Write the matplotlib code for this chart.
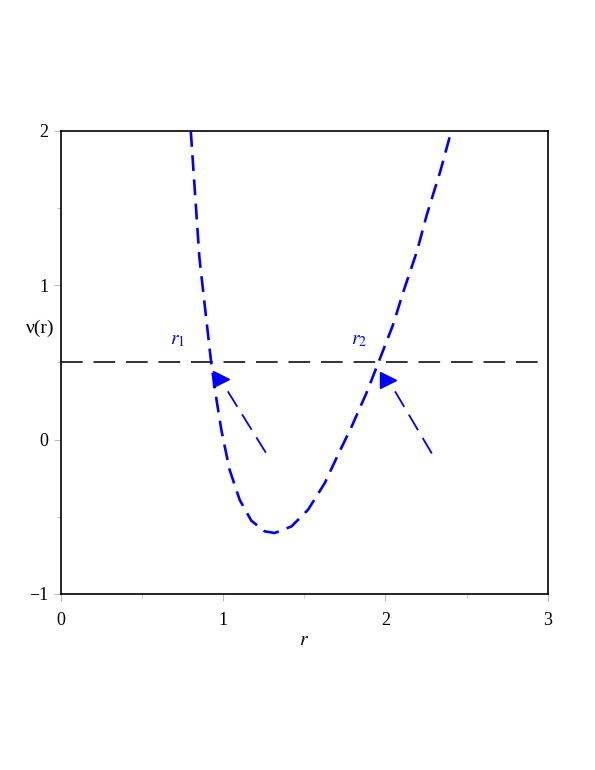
import matplotlib.pyplot as plt

# values
r_vals = [0.80, 0.853, 0.926, 0.957, 0.988, 1.039, 1.101, 1.173, 1.255, 1.317,
          1.421, 1.523, 1.626, 1.709, 1.792, 1.884, 1.954, 2.047, 2.111, 2.194,
          2.255, 2.338, 2.406]
v_vals = [2.0, 1.18, 0.497, 0.27, 0.065, -0.194, -0.389, -0.525, -0.594, -0.605,
          -0.562, -0.454, -0.281, -0.095, 0.086, 0.305, 0.493, 0.745, 0.961, 1.220,
          1.458, 1.739, 2.0]
level = 0.5
shaft_start = [(1.028, 0.313), (2.059, 0.313)]
shaft_end = [(1.266, -0.09), (2.29, -0.097)]
heads = [(0.988, 0.395), (2.016, 0.389)]
labels = ["$r_1$", "$r_2$"]
label_pos = [(0.72, 0.64), (1.84, 0.64)]
xticks = [0, 1, 2, 3]
yticks = [-1, 0, 1, 2]

plt.rcParams['font.family'] = ['Liberation Serif', 'DejaVu Serif']
plt.rcParams['mathtext.fontset'] = 'stix'

fig = plt.figure(figsize=(5.95, 7.7), dpi=100)
ax = fig.add_axes([0.1025, 0.2286, 0.818, 0.6013])

ax.plot(r_vals, v_vals, color='blue', lw=1.9, dashes=(6, 3.2), zorder=3)
ax.axhline(level, color='#222222', lw=1.3, dashes=(12, 6), zorder=2)

# arrows: dashed shaft plus a filled head
for (sx, sy), (ex, ey) in zip(shaft_start, shaft_end):
    ax.plot([sx, ex], [sy, ey], color='blue', lw=1.3, dashes=(10, 5))
for hx, hy in heads:
    ax.plot(hx, hy, marker='>', ms=11, color='blue', mec='blue', ls='none')

for lab, (lx, ly) in zip(labels, label_pos):
    ax.text(lx, ly, lab, color='blue', fontsize=14, ha='center', va='center')

ax.set_xlim(0, 3)
ax.set_ylim(-1, 2)
ax.set_xticks(xticks)
ax.set_yticks(yticks)
ax.set_yticklabels(['\u22121', '0', '1', '2'])
ax.set_xticks([0.5, 1.5, 2.5], minor=True)
ax.set_yticks([-0.5, 0.5, 1.5], minor=True)
ax.tick_params(which='major', length=5, color='#bbbbbb', labelsize=13, pad=8)
ax.tick_params(which='minor', length=3, color='#bbbbbb')
ax.tick_params(axis='y', pad=4)
for s in ax.spines.values():
    s.set_linewidth(1.2)

ax.set_xlabel('$r$', fontsize=14, labelpad=2)
fig.text(40 / 595, 1 - 328 / 770, '\u03bd(r)', fontsize=14, ha='center', va='center')

fig.savefig('out.png', dpi=100)
